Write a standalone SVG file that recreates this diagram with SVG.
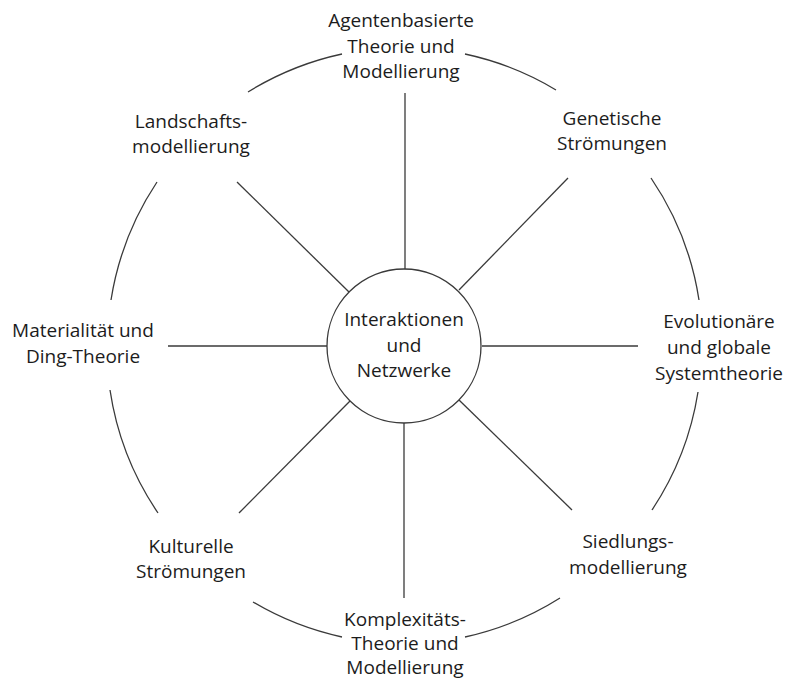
<svg xmlns="http://www.w3.org/2000/svg" width="790" height="680" viewBox="0 0 790 680">
<style>
.ln{fill:none;stroke:#3a3a3a;stroke-width:1.3}
text{font-family:"Open Sans","Noto Sans",sans-serif;font-size:19px;fill:#1c1c1c;text-anchor:middle}
</style>
<rect width="790" height="680" fill="#ffffff"/>
<g id="connectors" class="ln">
<path d="M248,92 A297,297 0 0 1 342,54"/>
<path d="M465,54 A297,297 0 0 1 556,90"/>
<path d="M651,178 A297,297 0 0 1 699,300"/>
<path d="M698,392 A297,297 0 0 1 652,510"/>
<path d="M560,598 A297,297 0 0 1 465,637"/>
<path d="M342,637 A297,297 0 0 1 253,602"/>
<path d="M158,513 A297,297 0 0 1 110,390"/>
<path d="M111,300 A297,297 0 0 1 157,182"/>
<line x1="405" y1="93" x2="405" y2="269"/>
<line x1="237" y1="182" x2="349" y2="292"/>
<line x1="568" y1="178" x2="459" y2="290"/>
<line x1="168" y1="346" x2="327" y2="346"/>
<line x1="482" y1="346" x2="638" y2="346"/>
<line x1="239" y1="513" x2="350" y2="401"/>
<line x1="404" y1="423" x2="404" y2="598"/>
<line x1="459" y1="400" x2="572" y2="510"/>
</g>
<g id="center">
<circle cx="404" cy="346" r="77" class="ln"/>
<text x="404" y="326">Interaktionen</text>
<text x="404" y="352">und</text>
<text x="404" y="377">Netzwerke</text>
</g>
<g id="agenten">
<text x="401" y="27">Agentenbasierte</text>
<text x="401" y="53">Theorie und</text>
<text x="401" y="78">Modellierung</text>
</g>
<g id="genetische">
<text x="612" y="125">Genetische</text>
<text x="612" y="150">Strömungen</text>
</g>
<g id="evolutionaere">
<text x="719" y="328">Evolutionäre</text>
<text x="719" y="354">und globale</text>
<text x="719" y="380">Systemtheorie</text>
</g>
<g id="siedlung">
<text x="628" y="548">Siedlungs-</text>
<text x="628" y="574">modellierung</text>
</g>
<g id="komplexitaet">
<text x="405" y="626">Komplexitäts-</text>
<text x="405" y="650">Theorie und</text>
<text x="405" y="674">Modellierung</text>
</g>
<g id="kulturelle">
<text x="191" y="553">Kulturelle</text>
<text x="191" y="578">Strömungen</text>
</g>
<g id="materialitaet">
<text x="83" y="337">Materialität und</text>
<text x="83" y="363">Ding-Theorie</text>
</g>
<g id="landschaft">
<text x="191" y="128">Landschafts-</text>
<text x="191" y="153">modellierung</text>
</g>
</svg>
